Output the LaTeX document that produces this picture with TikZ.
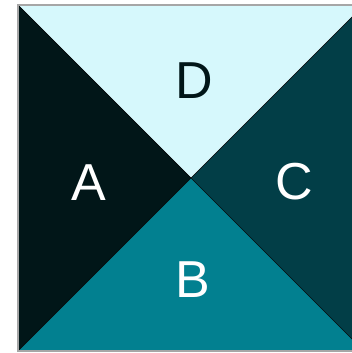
\documentclass[tikz,border=0pt]{standalone}
\usepackage{fontspec}
\setmainfont{Liberation Sans}
\definecolor{teilA}{HTML}{011618}
\definecolor{teilB}{HTML}{028090}
\definecolor{teilC}{HTML}{023E47}
\definecolor{teilD}{HTML}{D6F8FC}
\begin{document}
\begin{tikzpicture}[x=1pt,y=-1pt,font=\fontsize{52}{52}\selectfont]
\useasboundingbox (0,0) rectangle (352,353);
\clip (0,0) rectangle (352,353);
\tikzset{feld/.style={draw=black,line width=0.6pt},lbl/.style={inner sep=0pt}}
\coordinate (lo) at (18,5);
\coordinate (ro) at (364,5);
\coordinate (ru) at (364,351);
\coordinate (lu) at (18,351);
\coordinate (m) at (191,178);
% vier Dreiecke
\fill[teilD] (lo) -- (ro) -- (m) -- cycle;
\fill[teilA] (lo) -- (lu) -- (m) -- cycle;
\fill[teilC] (ro) -- (ru) -- (m) -- cycle;
\fill[teilB] (lu) -- (ru) -- (m) -- cycle;
\draw[feld] (lo) -- (ru);
\draw[feld] (lu) -- (ro);
\draw[gray!70,line width=1.2pt] (lo) rectangle (ru);
\node[lbl,text=teilA] (d) at (194,81) {D};
\node[lbl,text=white] (a) at (89,183) {A};
\node[lbl,text=white] (c) at (294,182) {C};
\node[lbl,text=white] (b) at (193,280) {B};
\end{tikzpicture}
\end{document}
